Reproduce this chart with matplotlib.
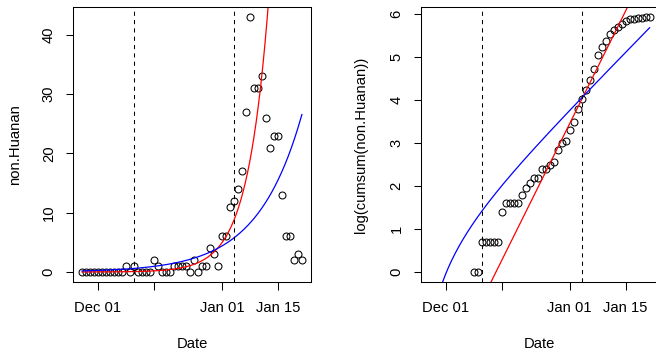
import numpy as np
import pandas as pd
import matplotlib
matplotlib.use("Agg")
import matplotlib.pyplot as plt
import matplotlib.dates as mdates

plt.rcParams['font.family'] = ['Liberation Sans', 'DejaVu Sans']
plt.rcParams['font.size'] = 10.6

# daily counts, non-Huanan cases
start = "2019-11-27"
non_huanan = [0, 0, 0, 0, 0, 0, 0, 0, 0, 0, 0,
              1, 0, 1, 0, 0, 0, 0, 2, 1, 0, 0, 0, 1, 1, 1, 1, 0, 2, 0, 1, 1, 4, 3, 1,
              6, 6, 11, 12, 14, 17, 27, 43, 31, 31, 33, 26, 21, 23, 23, 13, 6, 6, 2, 3, 2]
dates = pd.date_range(start, periods=len(non_huanan), freq="D")

# reference dates (dashed lines)
cut_dates = pd.to_datetime(["2019-12-10", "2020-01-04"])

# x ticks
xtick_dates = pd.to_datetime(["2019-12-01", "2019-12-15", "2020-01-01", "2020-01-15"])
xtick_labels = ["Dec 01", "", "Jan 01", "Jan 15"]

# fitted curves, parameters in days since Dec 01
origin = pd.Timestamp("2019-12-01")
red_daily = (-4.317, 0.1908)       # log(count) = a + b*t
blue_daily = (-1.31, 0.090)
red_cum = (-2.350, 0.1873)         # log(cumsum) = a + b*t
blue_cum = (-1.507, 0.095, -5.6)   # log of integrated exponential from t0

t = np.array([(d - origin).days for d in dates], dtype=float)
tt = np.linspace(t[0], t[-1], 400)
tt_dates = origin + pd.to_timedelta(tt, unit="D")

cum = np.cumsum(non_huanan)
mask = cum > 0
log_cum = np.log(cum[mask])


def style(ax, ylim, yticks):
    xr = mdates.date2num(dates[-1]) - mdates.date2num(dates[0])
    ax.set_xlim(mdates.date2num(dates[0]) - 0.04 * xr, mdates.date2num(dates[-1]) + 0.04 * xr)
    ax.set_ylim(*ylim)
    ax.set_xticks(mdates.date2num(xtick_dates))
    ax.set_xticklabels(xtick_labels)
    ax.set_yticks(yticks)
    ax.set_yticklabels([str(v) for v in yticks], rotation=90, va="center", ha="center")
    ax.tick_params(axis="both", direction="out", length=5.4, width=0.75, colors="black")
    ax.tick_params(axis="x", pad=8.2)
    ax.tick_params(axis="y", pad=12.2)
    for s in ax.spines.values():
        s.set_linewidth(0.75)
    for d in cut_dates:
        ax.axvline(d, color="black", lw=0.75, ls=(0, (4, 4)))


fig = plt.figure(figsize=(6.56, 3.5), dpi=100)
ax1 = fig.add_axes([0.1117, 0.1937, 0.3619, 0.7863])
ax2 = fig.add_axes([0.6418, 0.1937, 0.3619, 0.7863])

# left: daily counts
ax1.plot(dates, non_huanan, "o", mfc="none", mec="black", ms=5.0, mew=0.75)
ax1.plot(tt_dates, np.exp(red_daily[0] + red_daily[1] * tt), color="red", lw=0.9)
ax1.plot(tt_dates, np.exp(blue_daily[0] + blue_daily[1] * tt), color="blue", lw=0.9)
style(ax1, (-1.72, 44.72), [0, 10, 20, 30, 40])
ax1.set_xlabel("Date", va="center")
ax1.xaxis.set_label_coords(0.5, -62 / 275.2)
ax1.set_ylabel("non.Huanan", va="center")
ax1.yaxis.set_label_coords(-58.3 / 237.4, 0.5)

# right: log cumulative counts
ax2.plot(dates[mask], log_cum, "o", mfc="none", mec="black", ms=5.0, mew=0.75)
ax2.plot(tt_dates, red_cum[0] + red_cum[1] * tt, color="red", lw=0.9)
a, b, t0 = blue_cum
with np.errstate(invalid="ignore", divide="ignore"):
    blue_line = np.log((np.exp(a + b * tt) - np.exp(a + b * t0)) / b)
ax2.plot(tt_dates, blue_line, color="blue", lw=0.9)
style(ax2, (-0.237, 6.169), [0, 1, 2, 3, 4, 5, 6])
ax2.set_xlabel("Date", va="center")
ax2.xaxis.set_label_coords(0.5, -62 / 275.2)
ax2.set_ylabel("log(cumsum(non.Huanan))", va="center")
ax2.yaxis.set_label_coords(-60.3 / 237.4, 0.5)

fig.savefig("out.png", dpi=100)
